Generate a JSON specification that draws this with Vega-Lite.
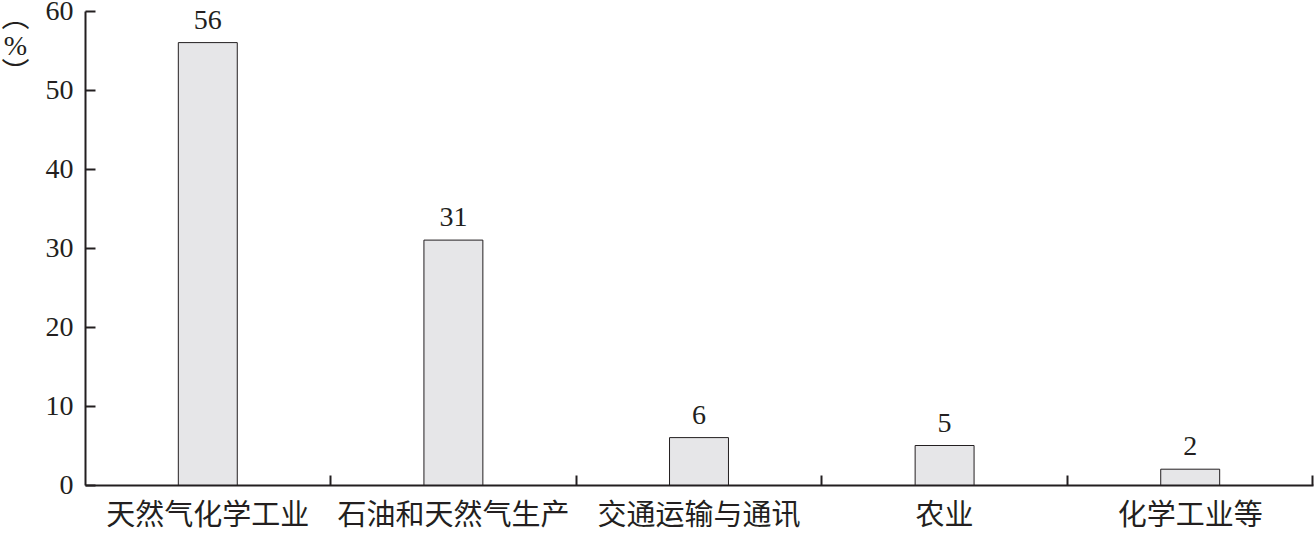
{
  "$schema": "https://vega.github.io/schema/vega-lite/v6.json",
  "width": 1228,
  "height": 474,
  "autosize": {"type": "none"},
  "padding": {"left": 85, "top": 11, "right": 2, "bottom": 48},
  "background": "white",
  "data": {
    "values": [
      {"sector": "天然气化学工业", "share": 56},
      {"sector": "石油和天然气生产", "share": 31},
      {"sector": "交通运输与通讯", "share": 6},
      {"sector": "农业", "share": 5},
      {"sector": "化学工业等", "share": 2}
    ]
  },
  "encoding": {
    "x": {
      "field": "sector", "type": "nominal", "sort": null,
      "scale": {"paddingInner": 0.76, "paddingOuter": 0.38}
    },
    "y": {
      "field": "share", "type": "quantitative",
      "scale": {"domain": [0, 60]}
    }
  },
  "layer": [
    {
      "mark": {"type": "bar", "fill": "#e6e6e8", "stroke": "#231f20", "strokeWidth": 1},
      "encoding": {
        "x": {
          "field": "sector", "type": "nominal", "sort": null,
          "axis": {
            "orient": "bottom",
            "title": null,
            "labelAngle": 0,
            "labelLimit": 0,
            "ticks": false,
            "domainColor": "#231f20",
            "domainWidth": 2,
            "labelFont": "Noto Sans CJK SC",
            "labelFontSize": 29,
            "labelColor": "#231f20",
            "labelPadding": 16
          }
        },
        "y": {
          "field": "share", "type": "quantitative",
          "axis": {
            "orient": "left",
            "title": ["︵", "%", "︶"],
            "titleFont": "'Liberation Serif', 'Noto Sans CJK SC'",
            "titleFontSize": 28,
            "titleFontWeight": "normal",
            "titleColor": "#231f20",
            "titleAngle": 0,
            "titleLineHeight": 28,
            "titleX": -70,
            "titleY": -7,
            "titleAlign": "center",
            "titleBaseline": "top",
            "values": [0, 10, 20, 30, 40, 50, 60],
            "grid": false,
            "ticks": false,
            "domainColor": "#231f20",
            "domainWidth": 2,
            "labelFont": "Liberation Serif",
            "labelFontSize": 28,
            "labelColor": "#231f20",
            "labelPadding": 12
          }
        }
      }
    },
    {
      "mark": {"type": "text", "baseline": "bottom", "dy": -8, "font": "Liberation Serif", "fontSize": 28, "color": "#231f20"},
      "encoding": {
        "text": {"field": "share", "type": "quantitative"},
        "x": {
          "field": "sector", "type": "nominal", "sort": null,
          "axis": {
            "orient": "top",
            "offset": -474,
            "title": null,
            "labels": false,
            "domain": false,
            "bandPosition": 2.583,
            "tickSize": 10,
            "tickWidth": 2,
            "tickColor": "#231f20"
          }
        },
        "y": {
          "field": "share", "type": "quantitative",
          "axis": {
            "orient": "right",
            "offset": -1228,
            "title": null,
            "labels": false,
            "domain": false,
            "grid": false,
            "values": [0, 10, 20, 30, 40, 50, 60],
            "tickSize": 10,
            "tickWidth": 2,
            "tickColor": "#231f20"
          }
        }
      }
    }
  ],
  "resolve": {"axis": {"x": "independent", "y": "independent"}},
  "config": {"view": {"stroke": null}}
}
